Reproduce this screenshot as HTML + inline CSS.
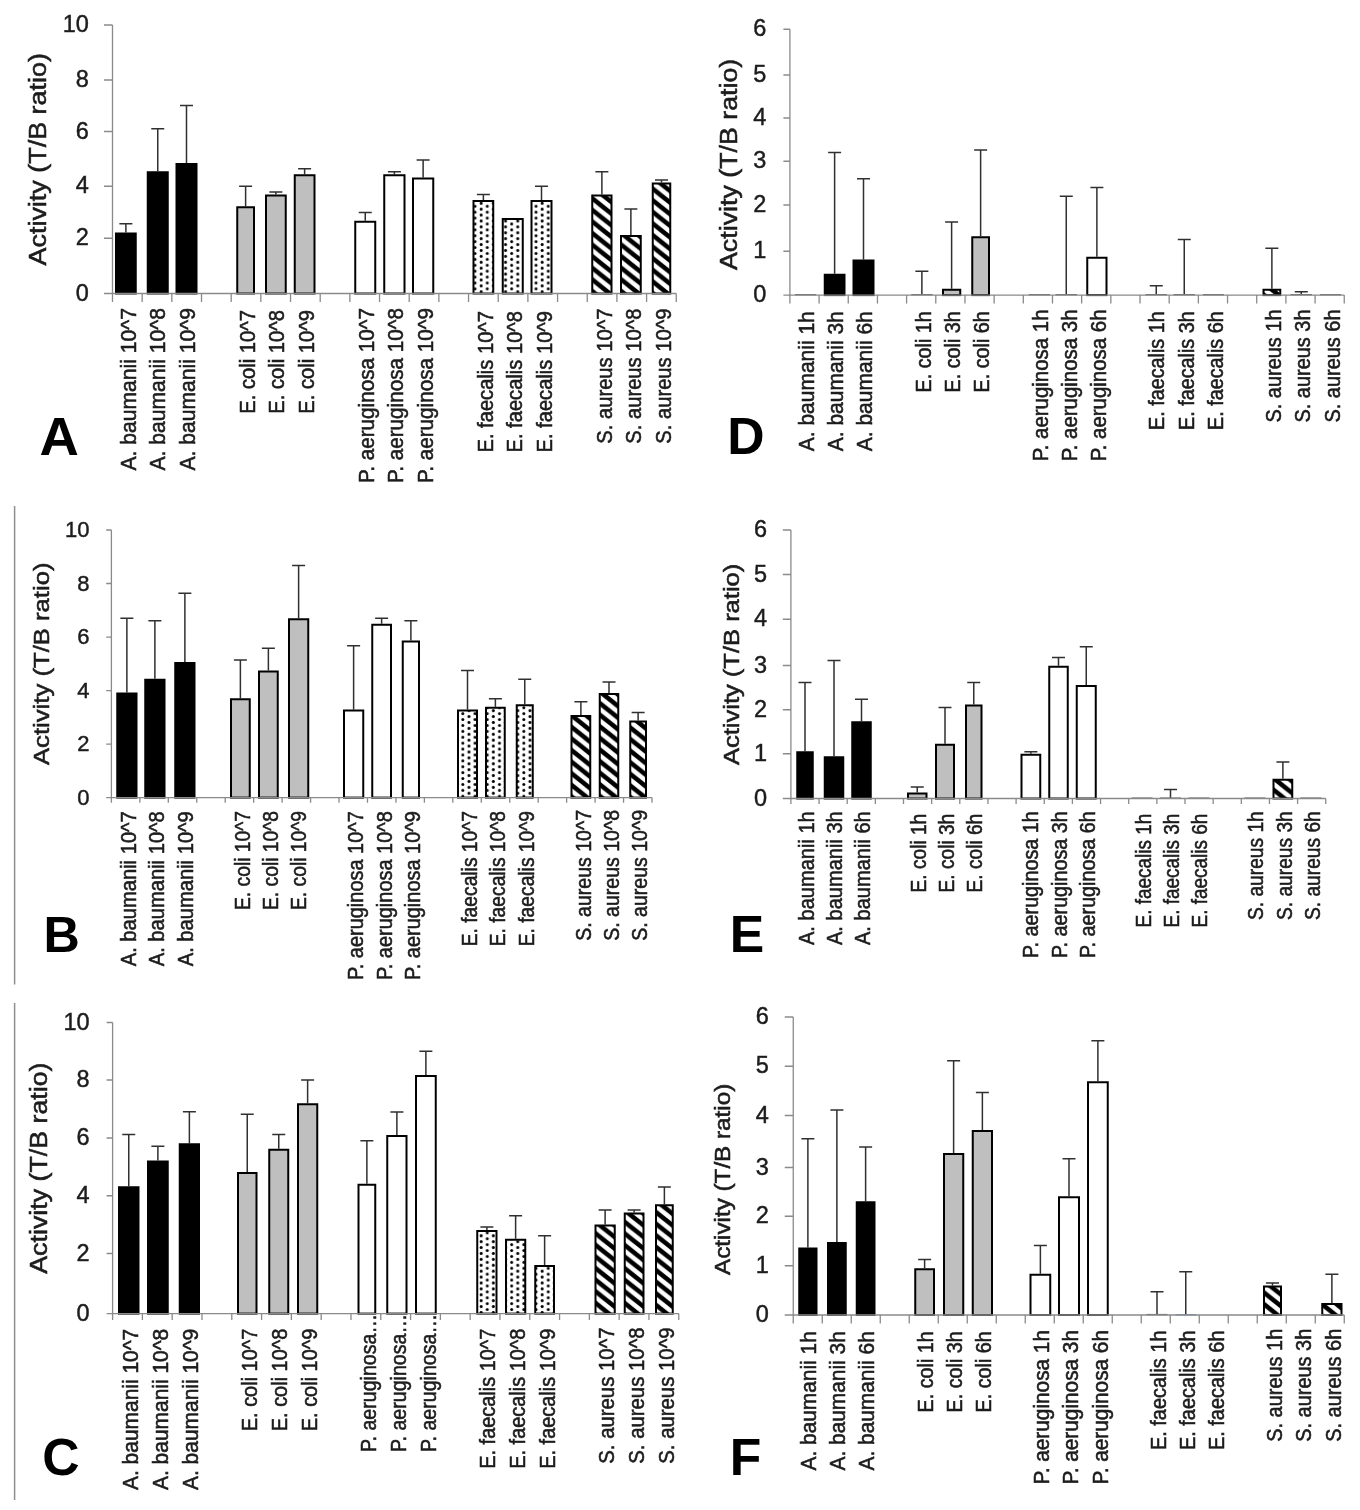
<!DOCTYPE html>
<html lang="en"><head><meta charset="utf-8"><title>Activity (T/B ratio) charts A-F</title>
<style>html,body{margin:0;padding:0;background:#fff}body{width:1360px;height:1510px;overflow:hidden}svg{display:block;font-family:"Liberation Sans", sans-serif;filter:blur(0.45px)}</style></head><body>
<svg width="1360" height="1510" viewBox="0 0 1360 1510">
<defs>
<pattern id="pdot" patternUnits="userSpaceOnUse" width="12.2" height="5.9" x="2.3" y="1.2"><rect width="12.2" height="5.9" fill="#fff"/><circle cx="3.05" cy="1.475" r="1.5" fill="#000"/><circle cx="9.15" cy="4.425" r="1.5" fill="#000"/></pattern>
<pattern id="phatch" patternUnits="userSpaceOnUse" width="14.5" height="11.6"><rect width="14.5" height="11.6" fill="#fff"/><path d="M0 0 L14.5 11.6 V17.5 L0 5.9 Z M0 -11.6 L14.5 0 V5.9 L0 -5.699999999999999 Z M0 11.6 L14.5 23.2 V29.1 L0 17.5 Z" fill="#000"/></pattern>
</defs>
<rect width="1360" height="1510" fill="#fff"/>
<g id="panel-A">
<path d="M125.88 232.5 V223.75 M119.38 223.75 H132.38" stroke="#303030" stroke-width="1.5" fill="none"/>
<rect x="116" y="233.5" width="19.75" height="60" fill="#000" stroke="#000" stroke-width="2.0"/>
<path d="M157.75 171.25 V128.75 M151.25 128.75 H164.25" stroke="#303030" stroke-width="1.5" fill="none"/>
<rect x="147.75" y="172.25" width="20" height="121.25" fill="#000" stroke="#000" stroke-width="2.0"/>
<path d="M186.5 163 V105.5 M180 105.5 H193" stroke="#303030" stroke-width="1.5" fill="none"/>
<rect x="176.5" y="164" width="20" height="129.5" fill="#000" stroke="#000" stroke-width="2.0"/>
<path d="M245.62 206.25 V186.25 M239.12 186.25 H252.12" stroke="#303030" stroke-width="1.5" fill="none"/>
<rect x="237.25" y="207.25" width="16.75" height="86.25" fill="#bfbfbf" stroke="#000" stroke-width="2.0"/>
<path d="M275.88 194.5 V192 M269.38 192 H282.38" stroke="#303030" stroke-width="1.5" fill="none"/>
<rect x="266" y="195.5" width="19.75" height="98" fill="#bfbfbf" stroke="#000" stroke-width="2.0"/>
<path d="M304.62 174.25 V168.75 M298.12 168.75 H311.12" stroke="#303030" stroke-width="1.5" fill="none"/>
<rect x="294.75" y="175.25" width="19.75" height="118.25" fill="#bfbfbf" stroke="#000" stroke-width="2.0"/>
<path d="M365.25 220.75 V212.5 M358.75 212.5 H371.75" stroke="#303030" stroke-width="1.5" fill="none"/>
<rect x="355.25" y="221.75" width="20" height="71.75" fill="#fff" stroke="#000" stroke-width="2.0"/>
<path d="M394.38 174.25 V171.75 M387.88 171.75 H400.88" stroke="#303030" stroke-width="1.5" fill="none"/>
<rect x="384.25" y="175.25" width="20.25" height="118.25" fill="#fff" stroke="#000" stroke-width="2.0"/>
<path d="M423.12 177.5 V160 M416.62 160 H429.62" stroke="#303030" stroke-width="1.5" fill="none"/>
<rect x="413" y="178.5" width="20.25" height="115" fill="#fff" stroke="#000" stroke-width="2.0"/>
<path d="M483.38 200 V194.5 M476.88 194.5 H489.88" stroke="#303030" stroke-width="1.5" fill="none"/>
<rect x="473.5" y="201" width="19.75" height="92.5" fill="url(#pdot)" stroke="#000" stroke-width="2.0"/>
<rect x="502.75" y="219" width="20" height="74.5" fill="url(#pdot)" stroke="#000" stroke-width="2.0"/>
<path d="M541.5 200 V186.25 M535 186.25 H548" stroke="#303030" stroke-width="1.5" fill="none"/>
<rect x="531.5" y="201" width="20" height="92.5" fill="url(#pdot)" stroke="#000" stroke-width="2.0"/>
<path d="M601.88 194.5 V171.75 M595.38 171.75 H608.38" stroke="#303030" stroke-width="1.5" fill="none"/>
<rect x="592.25" y="195.5" width="19.25" height="98" fill="url(#phatch)" stroke="#000" stroke-width="2.0"/>
<path d="M630.88 235 V209 M624.38 209 H637.38" stroke="#303030" stroke-width="1.5" fill="none"/>
<rect x="621" y="236" width="19.75" height="57.5" fill="url(#phatch)" stroke="#000" stroke-width="2.0"/>
<path d="M661.5 182.5 V180 M655 180 H668" stroke="#303030" stroke-width="1.5" fill="none"/>
<rect x="652.75" y="183.5" width="17.5" height="110" fill="url(#phatch)" stroke="#000" stroke-width="2.0"/>
<path d="M112.5 25 V293.5 M104 293.5 H676.25 M104 238.25 H112.5 M104 186.25 H112.5 M104 131.5 H112.5 M104 80 H112.5 M104 25 H112.5 M112.5 293.5 V301.9 M142.17 293.5 V301.9 M171.84 293.5 V301.9 M201.51 293.5 V301.9 M231.18 293.5 V301.9 M260.86 293.5 V301.9 M290.53 293.5 V301.9 M320.2 293.5 V301.9 M349.87 293.5 V301.9 M379.54 293.5 V301.9 M409.21 293.5 V301.9 M438.88 293.5 V301.9 M468.55 293.5 V301.9 M498.22 293.5 V301.9 M527.89 293.5 V301.9 M557.57 293.5 V301.9 M587.24 293.5 V301.9 M616.91 293.5 V301.9 M646.58 293.5 V301.9 M676.25 293.5 V301.9" stroke="#8a8a8a" stroke-width="1.3" fill="none"/>
<text x="88.8" y="300.7" text-anchor="end" font-size="23.5" fill="#1c1c1c" stroke="#1c1c1c" stroke-width="0.45">0</text>
<text x="88.8" y="245.45" text-anchor="end" font-size="23.5" fill="#1c1c1c" stroke="#1c1c1c" stroke-width="0.45">2</text>
<text x="88.8" y="193.45" text-anchor="end" font-size="23.5" fill="#1c1c1c" stroke="#1c1c1c" stroke-width="0.45">4</text>
<text x="88.8" y="138.7" text-anchor="end" font-size="23.5" fill="#1c1c1c" stroke="#1c1c1c" stroke-width="0.45">6</text>
<text x="88.8" y="87.2" text-anchor="end" font-size="23.5" fill="#1c1c1c" stroke="#1c1c1c" stroke-width="0.45">8</text>
<text x="88.8" y="32.2" text-anchor="end" font-size="23.5" fill="#1c1c1c" stroke="#1c1c1c" stroke-width="0.45">10</text>
<text transform="translate(46 265.5) rotate(-90)" font-size="23.5" fill="#1c1c1c" stroke="#1c1c1c" stroke-width="0.55" textLength="212.5" lengthAdjust="spacingAndGlyphs">Activity (T/B ratio)</text>
<text x="39.5" y="455" font-size="54.47" font-weight="bold" fill="#000">A</text>
<text transform="translate(135.7 470.5) rotate(-90)" font-size="21.5" fill="#1c1c1c" stroke="#1c1c1c" stroke-width="0.55" textLength="162.5" lengthAdjust="spacingAndGlyphs">A. baumanii 10^7</text>
<text transform="translate(165.44 470.5) rotate(-90)" font-size="21.5" fill="#1c1c1c" stroke="#1c1c1c" stroke-width="0.55" textLength="162.5" lengthAdjust="spacingAndGlyphs">A. baumanii 10^8</text>
<text transform="translate(195.18 470.5) rotate(-90)" font-size="21.5" fill="#1c1c1c" stroke="#1c1c1c" stroke-width="0.55" textLength="162.5" lengthAdjust="spacingAndGlyphs">A. baumanii 10^9</text>
<text transform="translate(254.66 413.75) rotate(-90)" font-size="21.5" fill="#1c1c1c" stroke="#1c1c1c" stroke-width="0.55" textLength="103.75" lengthAdjust="spacingAndGlyphs">E. coli 10^7</text>
<text transform="translate(284.4 413.75) rotate(-90)" font-size="21.5" fill="#1c1c1c" stroke="#1c1c1c" stroke-width="0.55" textLength="103.75" lengthAdjust="spacingAndGlyphs">E. coli 10^8</text>
<text transform="translate(314.14 413.75) rotate(-90)" font-size="21.5" fill="#1c1c1c" stroke="#1c1c1c" stroke-width="0.55" textLength="103.75" lengthAdjust="spacingAndGlyphs">E. coli 10^9</text>
<text transform="translate(373.62 483) rotate(-90)" font-size="21.5" fill="#1c1c1c" stroke="#1c1c1c" stroke-width="0.55" textLength="175" lengthAdjust="spacingAndGlyphs">P. aeruginosa 10^7</text>
<text transform="translate(403.36 483) rotate(-90)" font-size="21.5" fill="#1c1c1c" stroke="#1c1c1c" stroke-width="0.55" textLength="175" lengthAdjust="spacingAndGlyphs">P. aeruginosa 10^8</text>
<text transform="translate(433.1 483) rotate(-90)" font-size="21.5" fill="#1c1c1c" stroke="#1c1c1c" stroke-width="0.55" textLength="175" lengthAdjust="spacingAndGlyphs">P. aeruginosa 10^9</text>
<text transform="translate(492.58 452.5) rotate(-90)" font-size="21.5" fill="#1c1c1c" stroke="#1c1c1c" stroke-width="0.55" textLength="141.5" lengthAdjust="spacingAndGlyphs">E. faecalis 10^7</text>
<text transform="translate(522.32 452.5) rotate(-90)" font-size="21.5" fill="#1c1c1c" stroke="#1c1c1c" stroke-width="0.55" textLength="141.5" lengthAdjust="spacingAndGlyphs">E. faecalis 10^8</text>
<text transform="translate(552.06 452.5) rotate(-90)" font-size="21.5" fill="#1c1c1c" stroke="#1c1c1c" stroke-width="0.55" textLength="141.5" lengthAdjust="spacingAndGlyphs">E. faecalis 10^9</text>
<text transform="translate(611.54 443.75) rotate(-90)" font-size="21.5" fill="#1c1c1c" stroke="#1c1c1c" stroke-width="0.55" textLength="135.25" lengthAdjust="spacingAndGlyphs">S. aureus 10^7</text>
<text transform="translate(641.28 443.75) rotate(-90)" font-size="21.5" fill="#1c1c1c" stroke="#1c1c1c" stroke-width="0.55" textLength="135.25" lengthAdjust="spacingAndGlyphs">S. aureus 10^8</text>
<text transform="translate(671.02 443.75) rotate(-90)" font-size="21.5" fill="#1c1c1c" stroke="#1c1c1c" stroke-width="0.55" textLength="135.25" lengthAdjust="spacingAndGlyphs">S. aureus 10^9</text>
</g>
<g id="panel-D">
<line x1="795" y1="294.7" x2="816.25" y2="294.7" stroke="#6e6e6e" stroke-width="1.4"/>
<path d="M834.62 273.75 V152.5 M828.12 152.5 H841.12" stroke="#303030" stroke-width="1.5" fill="none"/>
<rect x="824.75" y="274.75" width="19.75" height="20.35" fill="#000" stroke="#000" stroke-width="2.0"/>
<path d="M863.5 259.5 V178.75 M857 178.75 H870" stroke="#303030" stroke-width="1.5" fill="none"/>
<rect x="853.5" y="260.5" width="20" height="34.6" fill="#000" stroke="#000" stroke-width="2.0"/>
<path d="M921.88 295.1 V271.25 M915.38 271.25 H928.38" stroke="#303030" stroke-width="1.5" fill="none"/>
<line x1="911.25" y1="294.7" x2="932.5" y2="294.7" stroke="#6e6e6e" stroke-width="1.4"/>
<path d="M951.62 288.75 V222 M945.12 222 H958.12" stroke="#303030" stroke-width="1.5" fill="none"/>
<rect x="943" y="289.75" width="17.25" height="5.35" fill="#bfbfbf" stroke="#000" stroke-width="2.0"/>
<path d="M980.62 236.25 V150 M974.12 150 H987.12" stroke="#303030" stroke-width="1.5" fill="none"/>
<rect x="972.25" y="237.25" width="16.75" height="57.85" fill="#bfbfbf" stroke="#000" stroke-width="2.0"/>
<line x1="1028.75" y1="294.7" x2="1050" y2="294.7" stroke="#6e6e6e" stroke-width="1.4"/>
<path d="M1066.25 295.1 V196.25 M1059.75 196.25 H1072.75" stroke="#303030" stroke-width="1.5" fill="none"/>
<line x1="1055.5" y1="294.7" x2="1077" y2="294.7" stroke="#6e6e6e" stroke-width="1.4"/>
<path d="M1096.88 256.75 V187.5 M1090.38 187.5 H1103.38" stroke="#303030" stroke-width="1.5" fill="none"/>
<rect x="1087.25" y="257.75" width="19.25" height="37.35" fill="#fff" stroke="#000" stroke-width="2.0"/>
<path d="M1156.25 295.1 V285.75 M1149.75 285.75 H1162.75" stroke="#303030" stroke-width="1.5" fill="none"/>
<line x1="1145.5" y1="294.7" x2="1167" y2="294.7" stroke="#6e6e6e" stroke-width="1.4"/>
<path d="M1184.25 295.1 V239.5 M1177.75 239.5 H1190.75" stroke="#303030" stroke-width="1.5" fill="none"/>
<line x1="1173.5" y1="294.7" x2="1195" y2="294.7" stroke="#6e6e6e" stroke-width="1.4"/>
<line x1="1203" y1="294.7" x2="1224" y2="294.7" stroke="#6e6e6e" stroke-width="1.4"/>
<path d="M1271.88 288.75 V248.25 M1265.38 248.25 H1278.38" stroke="#303030" stroke-width="1.5" fill="none"/>
<rect x="1263.5" y="289.75" width="16.75" height="5.35" fill="url(#phatch)" stroke="#000" stroke-width="2.0"/>
<path d="M1301.25 295.1 V291.75 M1294.75 291.75 H1307.75" stroke="#303030" stroke-width="1.5" fill="none"/>
<line x1="1290.5" y1="294.7" x2="1312" y2="294.7" stroke="#6e6e6e" stroke-width="1.4"/>
<line x1="1320" y1="294.7" x2="1341" y2="294.7" stroke="#6e6e6e" stroke-width="1.4"/>
<path d="M789.9 29.25 V295.1 M783.4 295.1 H1344.25 M783.4 251.25 H789.9 M783.4 205 H789.9 M783.4 161.25 H789.9 M783.4 118 H789.9 M783.4 75 H789.9 M783.4 29.25 H789.9 M789.9 295.1 V303.4 M819.08 295.1 V303.4 M848.25 295.1 V303.4 M877.43 295.1 V303.4 M906.61 295.1 V303.4 M935.78 295.1 V303.4 M964.96 295.1 V303.4 M994.13 295.1 V303.4 M1023.31 295.1 V303.4 M1052.49 295.1 V303.4 M1081.66 295.1 V303.4 M1110.84 295.1 V303.4 M1140.02 295.1 V303.4 M1169.19 295.1 V303.4 M1198.37 295.1 V303.4 M1227.54 295.1 V303.4 M1256.72 295.1 V303.4 M1285.9 295.1 V303.4 M1315.07 295.1 V303.4 M1344.25 295.1 V303.4" stroke="#8a8a8a" stroke-width="1.3" fill="none"/>
<text x="766.3" y="302.3" text-anchor="end" font-size="23.5" fill="#1c1c1c" stroke="#1c1c1c" stroke-width="0.45">0</text>
<text x="766.3" y="258.45" text-anchor="end" font-size="23.5" fill="#1c1c1c" stroke="#1c1c1c" stroke-width="0.45">1</text>
<text x="766.3" y="212.2" text-anchor="end" font-size="23.5" fill="#1c1c1c" stroke="#1c1c1c" stroke-width="0.45">2</text>
<text x="766.3" y="168.45" text-anchor="end" font-size="23.5" fill="#1c1c1c" stroke="#1c1c1c" stroke-width="0.45">3</text>
<text x="766.3" y="125.2" text-anchor="end" font-size="23.5" fill="#1c1c1c" stroke="#1c1c1c" stroke-width="0.45">4</text>
<text x="766.3" y="82.2" text-anchor="end" font-size="23.5" fill="#1c1c1c" stroke="#1c1c1c" stroke-width="0.45">5</text>
<text x="766.3" y="36.45" text-anchor="end" font-size="23.5" fill="#1c1c1c" stroke="#1c1c1c" stroke-width="0.45">6</text>
<text transform="translate(737 270) rotate(-90)" font-size="23.5" fill="#1c1c1c" stroke="#1c1c1c" stroke-width="0.55" textLength="211.25" lengthAdjust="spacingAndGlyphs">Activity (T/B ratio)</text>
<text x="727.25" y="454.25" font-size="51.68" font-weight="bold" fill="#000">D</text>
<text transform="translate(813.9 451.25) rotate(-90)" font-size="21.5" fill="#1c1c1c" stroke="#1c1c1c" stroke-width="0.55" textLength="140" lengthAdjust="spacingAndGlyphs">A. baumanii 1h</text>
<text transform="translate(843.1 451.25) rotate(-90)" font-size="21.5" fill="#1c1c1c" stroke="#1c1c1c" stroke-width="0.55" textLength="140" lengthAdjust="spacingAndGlyphs">A. baumanii 3h</text>
<text transform="translate(872.3 451.25) rotate(-90)" font-size="21.5" fill="#1c1c1c" stroke="#1c1c1c" stroke-width="0.55" textLength="140" lengthAdjust="spacingAndGlyphs">A. baumanii 6h</text>
<text transform="translate(930.7 392.5) rotate(-90)" font-size="21.5" fill="#1c1c1c" stroke="#1c1c1c" stroke-width="0.55" textLength="81.25" lengthAdjust="spacingAndGlyphs">E. coli 1h</text>
<text transform="translate(959.9 392.5) rotate(-90)" font-size="21.5" fill="#1c1c1c" stroke="#1c1c1c" stroke-width="0.55" textLength="81.25" lengthAdjust="spacingAndGlyphs">E. coli 3h</text>
<text transform="translate(989.1 392.5) rotate(-90)" font-size="21.5" fill="#1c1c1c" stroke="#1c1c1c" stroke-width="0.55" textLength="81.25" lengthAdjust="spacingAndGlyphs">E. coli 6h</text>
<text transform="translate(1047.5 461.25) rotate(-90)" font-size="21.5" fill="#1c1c1c" stroke="#1c1c1c" stroke-width="0.55" textLength="151.75" lengthAdjust="spacingAndGlyphs">P. aeruginosa 1h</text>
<text transform="translate(1076.7 461.25) rotate(-90)" font-size="21.5" fill="#1c1c1c" stroke="#1c1c1c" stroke-width="0.55" textLength="151.75" lengthAdjust="spacingAndGlyphs">P. aeruginosa 3h</text>
<text transform="translate(1105.9 461.25) rotate(-90)" font-size="21.5" fill="#1c1c1c" stroke="#1c1c1c" stroke-width="0.55" textLength="151.75" lengthAdjust="spacingAndGlyphs">P. aeruginosa 6h</text>
<text transform="translate(1164.3 430) rotate(-90)" font-size="21.5" fill="#1c1c1c" stroke="#1c1c1c" stroke-width="0.55" textLength="118.75" lengthAdjust="spacingAndGlyphs">E. faecalis 1h</text>
<text transform="translate(1193.5 430) rotate(-90)" font-size="21.5" fill="#1c1c1c" stroke="#1c1c1c" stroke-width="0.55" textLength="118.75" lengthAdjust="spacingAndGlyphs">E. faecalis 3h</text>
<text transform="translate(1222.7 430) rotate(-90)" font-size="21.5" fill="#1c1c1c" stroke="#1c1c1c" stroke-width="0.55" textLength="118.75" lengthAdjust="spacingAndGlyphs">E. faecalis 6h</text>
<text transform="translate(1281.1 422.5) rotate(-90)" font-size="21.5" fill="#1c1c1c" stroke="#1c1c1c" stroke-width="0.55" textLength="113" lengthAdjust="spacingAndGlyphs">S. aureus 1h</text>
<text transform="translate(1310.3 422.5) rotate(-90)" font-size="21.5" fill="#1c1c1c" stroke="#1c1c1c" stroke-width="0.55" textLength="113" lengthAdjust="spacingAndGlyphs">S. aureus 3h</text>
<text transform="translate(1339.5 422.5) rotate(-90)" font-size="21.5" fill="#1c1c1c" stroke="#1c1c1c" stroke-width="0.55" textLength="113" lengthAdjust="spacingAndGlyphs">S. aureus 6h</text>
</g>
<g id="panel-B">
<line x1="14.6" y1="506" x2="14.6" y2="984.6" stroke="#8f8f8f" stroke-width="1.5"/>
<path d="M126.88 692.5 V618.25 M120.38 618.25 H133.38" stroke="#303030" stroke-width="1.5" fill="none"/>
<rect x="117.25" y="693.5" width="19.25" height="104.1" fill="#000" stroke="#000" stroke-width="2.0"/>
<path d="M154.88 678.75 V620.75 M148.38 620.75 H161.38" stroke="#303030" stroke-width="1.5" fill="none"/>
<rect x="145.25" y="679.75" width="19.25" height="117.85" fill="#000" stroke="#000" stroke-width="2.0"/>
<path d="M184.88 662 V593.25 M178.38 593.25 H191.38" stroke="#303030" stroke-width="1.5" fill="none"/>
<rect x="175.25" y="663" width="19.25" height="134.6" fill="#000" stroke="#000" stroke-width="2.0"/>
<path d="M240.38 698.25 V660 M233.88 660 H246.88" stroke="#303030" stroke-width="1.5" fill="none"/>
<rect x="231" y="699.25" width="18.75" height="98.35" fill="#bfbfbf" stroke="#000" stroke-width="2.0"/>
<path d="M268.38 670.5 V648.25 M261.88 648.25 H274.88" stroke="#303030" stroke-width="1.5" fill="none"/>
<rect x="259" y="671.5" width="18.75" height="126.1" fill="#bfbfbf" stroke="#000" stroke-width="2.0"/>
<path d="M298.62 618.25 V565.5 M292.12 565.5 H305.12" stroke="#303030" stroke-width="1.5" fill="none"/>
<rect x="289" y="619.25" width="19.25" height="178.35" fill="#bfbfbf" stroke="#000" stroke-width="2.0"/>
<path d="M353.62 709.5 V645.75 M347.12 645.75 H360.12" stroke="#303030" stroke-width="1.5" fill="none"/>
<rect x="344" y="710.5" width="19.25" height="87.1" fill="#fff" stroke="#000" stroke-width="2.0"/>
<path d="M381.62 623.75 V618.25 M375.12 618.25 H388.12" stroke="#303030" stroke-width="1.5" fill="none"/>
<rect x="372.25" y="624.75" width="18.75" height="172.85" fill="#fff" stroke="#000" stroke-width="2.0"/>
<path d="M410.88 640.5 V620.75 M404.38 620.75 H417.38" stroke="#303030" stroke-width="1.5" fill="none"/>
<rect x="402.75" y="641.5" width="16.25" height="156.1" fill="#fff" stroke="#000" stroke-width="2.0"/>
<path d="M467.5 709.5 V670.5 M461 670.5 H474" stroke="#303030" stroke-width="1.5" fill="none"/>
<rect x="458" y="710.5" width="19" height="87.1" fill="url(#pdot)" stroke="#000" stroke-width="2.0"/>
<path d="M495.38 706.75 V698.75 M488.88 698.75 H501.88" stroke="#303030" stroke-width="1.5" fill="none"/>
<rect x="486" y="707.75" width="18.75" height="89.85" fill="url(#pdot)" stroke="#000" stroke-width="2.0"/>
<path d="M524.75 704.25 V679.25 M518.25 679.25 H531.25" stroke="#303030" stroke-width="1.5" fill="none"/>
<rect x="516.75" y="705.25" width="16" height="92.35" fill="url(#pdot)" stroke="#000" stroke-width="2.0"/>
<path d="M580.88 715 V701.75 M574.38 701.75 H587.38" stroke="#303030" stroke-width="1.5" fill="none"/>
<rect x="571.5" y="716" width="18.75" height="81.6" fill="url(#phatch)" stroke="#000" stroke-width="2.0"/>
<path d="M609 693 V682 M602.5 682 H615.5" stroke="#303030" stroke-width="1.5" fill="none"/>
<rect x="599.75" y="694" width="18.5" height="103.6" fill="url(#phatch)" stroke="#000" stroke-width="2.0"/>
<path d="M638.12 720.5 V712.5 M631.62 712.5 H644.62" stroke="#303030" stroke-width="1.5" fill="none"/>
<rect x="630.25" y="721.5" width="15.75" height="76.1" fill="url(#phatch)" stroke="#000" stroke-width="2.0"/>
<path d="M111.4 530 V797.6 M106.2 797.6 H652 M106.2 744.08 H111.4 M106.2 690.56 H111.4 M106.2 637.04 H111.4 M106.2 583.52 H111.4 M106.2 530 H111.4 M111.4 797.6 V802.8 M139.85 797.6 V802.8 M168.31 797.6 V802.8 M196.76 797.6 V802.8 M225.21 797.6 V802.8 M253.66 797.6 V802.8 M282.12 797.6 V802.8 M310.57 797.6 V802.8 M339.02 797.6 V802.8 M367.47 797.6 V802.8 M395.93 797.6 V802.8 M424.38 797.6 V802.8 M452.83 797.6 V802.8 M481.28 797.6 V802.8 M509.74 797.6 V802.8 M538.19 797.6 V802.8 M566.64 797.6 V802.8 M595.09 797.6 V802.8 M623.55 797.6 V802.8 M652 797.6 V802.8" stroke="#8a8a8a" stroke-width="1.3" fill="none"/>
<text x="89.55" y="804.8" text-anchor="end" font-size="22" fill="#1c1c1c" stroke="#1c1c1c" stroke-width="0.45">0</text>
<text x="89.55" y="751.28" text-anchor="end" font-size="22" fill="#1c1c1c" stroke="#1c1c1c" stroke-width="0.45">2</text>
<text x="89.55" y="697.76" text-anchor="end" font-size="22" fill="#1c1c1c" stroke="#1c1c1c" stroke-width="0.45">4</text>
<text x="89.55" y="644.24" text-anchor="end" font-size="22" fill="#1c1c1c" stroke="#1c1c1c" stroke-width="0.45">6</text>
<text x="89.55" y="590.72" text-anchor="end" font-size="22" fill="#1c1c1c" stroke="#1c1c1c" stroke-width="0.45">8</text>
<text x="89.55" y="537.2" text-anchor="end" font-size="22" fill="#1c1c1c" stroke="#1c1c1c" stroke-width="0.45">10</text>
<text transform="translate(48.5 765) rotate(-90)" font-size="22.3" fill="#1c1c1c" stroke="#1c1c1c" stroke-width="0.55" textLength="202.5" lengthAdjust="spacingAndGlyphs">Activity (T/B ratio)</text>
<text x="43.5" y="952" font-size="50.28" font-weight="bold" fill="#000">B</text>
<text transform="translate(135.9 966.25) rotate(-90)" font-size="21.5" fill="#1c1c1c" stroke="#1c1c1c" stroke-width="0.55" textLength="155" lengthAdjust="spacingAndGlyphs">A. baumanii 10^7</text>
<text transform="translate(164.32 966.25) rotate(-90)" font-size="21.5" fill="#1c1c1c" stroke="#1c1c1c" stroke-width="0.55" textLength="155" lengthAdjust="spacingAndGlyphs">A. baumanii 10^8</text>
<text transform="translate(192.74 966.25) rotate(-90)" font-size="21.5" fill="#1c1c1c" stroke="#1c1c1c" stroke-width="0.55" textLength="155" lengthAdjust="spacingAndGlyphs">A. baumanii 10^9</text>
<text transform="translate(249.58 910) rotate(-90)" font-size="21.5" fill="#1c1c1c" stroke="#1c1c1c" stroke-width="0.55" textLength="99" lengthAdjust="spacingAndGlyphs">E. coli 10^7</text>
<text transform="translate(278 910) rotate(-90)" font-size="21.5" fill="#1c1c1c" stroke="#1c1c1c" stroke-width="0.55" textLength="99" lengthAdjust="spacingAndGlyphs">E. coli 10^8</text>
<text transform="translate(306.42 910) rotate(-90)" font-size="21.5" fill="#1c1c1c" stroke="#1c1c1c" stroke-width="0.55" textLength="99" lengthAdjust="spacingAndGlyphs">E. coli 10^9</text>
<text transform="translate(363.26 980) rotate(-90)" font-size="21.5" fill="#1c1c1c" stroke="#1c1c1c" stroke-width="0.55" textLength="168.75" lengthAdjust="spacingAndGlyphs">P. aeruginosa 10^7</text>
<text transform="translate(391.68 980) rotate(-90)" font-size="21.5" fill="#1c1c1c" stroke="#1c1c1c" stroke-width="0.55" textLength="168.75" lengthAdjust="spacingAndGlyphs">P. aeruginosa 10^8</text>
<text transform="translate(420.1 980) rotate(-90)" font-size="21.5" fill="#1c1c1c" stroke="#1c1c1c" stroke-width="0.55" textLength="168.75" lengthAdjust="spacingAndGlyphs">P. aeruginosa 10^9</text>
<text transform="translate(476.94 946.25) rotate(-90)" font-size="21.5" fill="#1c1c1c" stroke="#1c1c1c" stroke-width="0.55" textLength="135.25" lengthAdjust="spacingAndGlyphs">E. faecalis 10^7</text>
<text transform="translate(505.36 946.25) rotate(-90)" font-size="21.5" fill="#1c1c1c" stroke="#1c1c1c" stroke-width="0.55" textLength="135.25" lengthAdjust="spacingAndGlyphs">E. faecalis 10^8</text>
<text transform="translate(533.78 946.25) rotate(-90)" font-size="21.5" fill="#1c1c1c" stroke="#1c1c1c" stroke-width="0.55" textLength="135.25" lengthAdjust="spacingAndGlyphs">E. faecalis 10^9</text>
<text transform="translate(590.62 940.75) rotate(-90)" font-size="21.5" fill="#1c1c1c" stroke="#1c1c1c" stroke-width="0.55" textLength="130.75" lengthAdjust="spacingAndGlyphs">S. aureus 10^7</text>
<text transform="translate(619.04 940.75) rotate(-90)" font-size="21.5" fill="#1c1c1c" stroke="#1c1c1c" stroke-width="0.55" textLength="130.75" lengthAdjust="spacingAndGlyphs">S. aureus 10^8</text>
<text transform="translate(647.46 940.75) rotate(-90)" font-size="21.5" fill="#1c1c1c" stroke="#1c1c1c" stroke-width="0.55" textLength="130.75" lengthAdjust="spacingAndGlyphs">S. aureus 10^9</text>
</g>
<g id="panel-E">
<path d="M805 751.25 V682.5 M798.5 682.5 H811.5" stroke="#303030" stroke-width="1.5" fill="none"/>
<rect x="797.25" y="752.25" width="15.5" height="46.25" fill="#000" stroke="#000" stroke-width="2.0"/>
<path d="M834 756.25 V660.5 M827.5 660.5 H840.5" stroke="#303030" stroke-width="1.5" fill="none"/>
<rect x="824.75" y="757.25" width="18.5" height="41.25" fill="#000" stroke="#000" stroke-width="2.0"/>
<path d="M861.5 721.25 V699.25 M855 699.25 H868" stroke="#303030" stroke-width="1.5" fill="none"/>
<rect x="852.25" y="722.25" width="18.5" height="76.25" fill="#000" stroke="#000" stroke-width="2.0"/>
<path d="M917.25 792.5 V787 M910.75 787 H923.75" stroke="#303030" stroke-width="1.5" fill="none"/>
<rect x="908" y="793.5" width="18.5" height="5" fill="#bfbfbf" stroke="#000" stroke-width="2.0"/>
<path d="M945 743.75 V707.5 M938.5 707.5 H951.5" stroke="#303030" stroke-width="1.5" fill="none"/>
<rect x="936" y="744.75" width="18" height="53.75" fill="#bfbfbf" stroke="#000" stroke-width="2.0"/>
<path d="M973.75 704.5 V682.5 M967.25 682.5 H980.25" stroke="#303030" stroke-width="1.5" fill="none"/>
<rect x="966" y="705.5" width="15.5" height="93" fill="#bfbfbf" stroke="#000" stroke-width="2.0"/>
<path d="M1030.88 753.75 V751.75 M1024.38 751.75 H1037.38" stroke="#303030" stroke-width="1.5" fill="none"/>
<rect x="1021.5" y="754.75" width="18.75" height="43.75" fill="#fff" stroke="#000" stroke-width="2.0"/>
<path d="M1058.5 665.75 V657.5 M1052 657.5 H1065" stroke="#303030" stroke-width="1.5" fill="none"/>
<rect x="1049.25" y="666.75" width="18.5" height="131.75" fill="#fff" stroke="#000" stroke-width="2.0"/>
<path d="M1086.25 685 V646.75 M1079.75 646.75 H1092.75" stroke="#303030" stroke-width="1.5" fill="none"/>
<rect x="1076.75" y="686" width="19" height="112.5" fill="#fff" stroke="#000" stroke-width="2.0"/>
<line x1="1131.75" y1="798.1" x2="1152.5" y2="798.1" stroke="#6e6e6e" stroke-width="1.4"/>
<path d="M1170.5 798.5 V789.5 M1164 789.5 H1177" stroke="#303030" stroke-width="1.5" fill="none"/>
<line x1="1160" y1="798.1" x2="1181" y2="798.1" stroke="#6e6e6e" stroke-width="1.4"/>
<line x1="1188.5" y1="798.1" x2="1209.5" y2="798.1" stroke="#6e6e6e" stroke-width="1.4"/>
<line x1="1244.5" y1="798.1" x2="1265.5" y2="798.1" stroke="#6e6e6e" stroke-width="1.4"/>
<path d="M1282.88 778.75 V762 M1276.38 762 H1289.38" stroke="#303030" stroke-width="1.5" fill="none"/>
<rect x="1273.5" y="779.75" width="18.75" height="18.75" fill="url(#phatch)" stroke="#000" stroke-width="2.0"/>
<line x1="1300.5" y1="798.1" x2="1321.5" y2="798.1" stroke="#6e6e6e" stroke-width="1.4"/>
<path d="M790.9 530 V798.5 M782.8 798.5 H1325.75 M782.8 753.75 H790.9 M782.8 709.75 H790.9 M782.8 665.5 H790.9 M782.8 619.25 H790.9 M782.8 574.5 H790.9 M782.8 530 H790.9 M790.9 798.5 V803.9 M819.05 798.5 V803.9 M847.2 798.5 V803.9 M875.35 798.5 V803.9 M903.5 798.5 V803.9 M931.65 798.5 V803.9 M959.8 798.5 V803.9 M987.95 798.5 V803.9 M1016.1 798.5 V803.9 M1044.25 798.5 V803.9 M1072.4 798.5 V803.9 M1100.55 798.5 V803.9 M1128.7 798.5 V803.9 M1156.85 798.5 V803.9 M1185 798.5 V803.9 M1213.15 798.5 V803.9 M1241.3 798.5 V803.9 M1269.45 798.5 V803.9 M1297.6 798.5 V803.9 M1325.75 798.5 V803.9" stroke="#8a8a8a" stroke-width="1.3" fill="none"/>
<text x="767.05" y="805.7" text-anchor="end" font-size="23.5" fill="#1c1c1c" stroke="#1c1c1c" stroke-width="0.45">0</text>
<text x="767.05" y="760.95" text-anchor="end" font-size="23.5" fill="#1c1c1c" stroke="#1c1c1c" stroke-width="0.45">1</text>
<text x="767.05" y="716.95" text-anchor="end" font-size="23.5" fill="#1c1c1c" stroke="#1c1c1c" stroke-width="0.45">2</text>
<text x="767.05" y="672.7" text-anchor="end" font-size="23.5" fill="#1c1c1c" stroke="#1c1c1c" stroke-width="0.45">3</text>
<text x="767.05" y="626.45" text-anchor="end" font-size="23.5" fill="#1c1c1c" stroke="#1c1c1c" stroke-width="0.45">4</text>
<text x="767.05" y="581.7" text-anchor="end" font-size="23.5" fill="#1c1c1c" stroke="#1c1c1c" stroke-width="0.45">5</text>
<text x="767.05" y="537.2" text-anchor="end" font-size="23.5" fill="#1c1c1c" stroke="#1c1c1c" stroke-width="0.45">6</text>
<text transform="translate(738.5 765) rotate(-90)" font-size="22.3" fill="#1c1c1c" stroke="#1c1c1c" stroke-width="0.55" textLength="201.25" lengthAdjust="spacingAndGlyphs">Activity (T/B ratio)</text>
<text x="729.75" y="952" font-size="51.68" font-weight="bold" fill="#000">E</text>
<text transform="translate(813.5 945) rotate(-90)" font-size="21.5" fill="#1c1c1c" stroke="#1c1c1c" stroke-width="0.55" textLength="133.75" lengthAdjust="spacingAndGlyphs">A. baumanii 1h</text>
<text transform="translate(841.62 945) rotate(-90)" font-size="21.5" fill="#1c1c1c" stroke="#1c1c1c" stroke-width="0.55" textLength="133.75" lengthAdjust="spacingAndGlyphs">A. baumanii 3h</text>
<text transform="translate(869.74 945) rotate(-90)" font-size="21.5" fill="#1c1c1c" stroke="#1c1c1c" stroke-width="0.55" textLength="133.75" lengthAdjust="spacingAndGlyphs">A. baumanii 6h</text>
<text transform="translate(925.98 892.5) rotate(-90)" font-size="21.5" fill="#1c1c1c" stroke="#1c1c1c" stroke-width="0.55" textLength="78.75" lengthAdjust="spacingAndGlyphs">E. coli 1h</text>
<text transform="translate(954.1 892.5) rotate(-90)" font-size="21.5" fill="#1c1c1c" stroke="#1c1c1c" stroke-width="0.55" textLength="78.75" lengthAdjust="spacingAndGlyphs">E. coli 3h</text>
<text transform="translate(982.22 892.5) rotate(-90)" font-size="21.5" fill="#1c1c1c" stroke="#1c1c1c" stroke-width="0.55" textLength="78.75" lengthAdjust="spacingAndGlyphs">E. coli 6h</text>
<text transform="translate(1038.46 958) rotate(-90)" font-size="21.5" fill="#1c1c1c" stroke="#1c1c1c" stroke-width="0.55" textLength="146.75" lengthAdjust="spacingAndGlyphs">P. aeruginosa 1h</text>
<text transform="translate(1066.58 958) rotate(-90)" font-size="21.5" fill="#1c1c1c" stroke="#1c1c1c" stroke-width="0.55" textLength="146.75" lengthAdjust="spacingAndGlyphs">P. aeruginosa 3h</text>
<text transform="translate(1094.7 958) rotate(-90)" font-size="21.5" fill="#1c1c1c" stroke="#1c1c1c" stroke-width="0.55" textLength="146.75" lengthAdjust="spacingAndGlyphs">P. aeruginosa 6h</text>
<text transform="translate(1150.94 927.5) rotate(-90)" font-size="21.5" fill="#1c1c1c" stroke="#1c1c1c" stroke-width="0.55" textLength="113.75" lengthAdjust="spacingAndGlyphs">E. faecalis 1h</text>
<text transform="translate(1179.06 927.5) rotate(-90)" font-size="21.5" fill="#1c1c1c" stroke="#1c1c1c" stroke-width="0.55" textLength="113.75" lengthAdjust="spacingAndGlyphs">E. faecalis 3h</text>
<text transform="translate(1207.18 927.5) rotate(-90)" font-size="21.5" fill="#1c1c1c" stroke="#1c1c1c" stroke-width="0.55" textLength="113.75" lengthAdjust="spacingAndGlyphs">E. faecalis 6h</text>
<text transform="translate(1263.42 920) rotate(-90)" font-size="21.5" fill="#1c1c1c" stroke="#1c1c1c" stroke-width="0.55" textLength="108.75" lengthAdjust="spacingAndGlyphs">S. aureus 1h</text>
<text transform="translate(1291.54 920) rotate(-90)" font-size="21.5" fill="#1c1c1c" stroke="#1c1c1c" stroke-width="0.55" textLength="108.75" lengthAdjust="spacingAndGlyphs">S. aureus 3h</text>
<text transform="translate(1319.66 920) rotate(-90)" font-size="21.5" fill="#1c1c1c" stroke="#1c1c1c" stroke-width="0.55" textLength="108.75" lengthAdjust="spacingAndGlyphs">S. aureus 6h</text>
</g>
<g id="panel-C">
<line x1="14.6" y1="1002.9" x2="14.6" y2="1500" stroke="#8f8f8f" stroke-width="1.5"/>
<path d="M128.75 1186.25 V1134.5 M122.25 1134.5 H135.25" stroke="#303030" stroke-width="1.5" fill="none"/>
<rect x="119" y="1187.25" width="19.5" height="126.35" fill="#000" stroke="#000" stroke-width="2.0"/>
<path d="M157.88 1160.5 V1146.25 M151.38 1146.25 H164.38" stroke="#303030" stroke-width="1.5" fill="none"/>
<rect x="148" y="1161.5" width="19.75" height="152.1" fill="#000" stroke="#000" stroke-width="2.0"/>
<path d="M189.38 1143.25 V1111.75 M182.88 1111.75 H195.88" stroke="#303030" stroke-width="1.5" fill="none"/>
<rect x="179.75" y="1144.25" width="19.25" height="169.35" fill="#000" stroke="#000" stroke-width="2.0"/>
<path d="M247.25 1172 V1114.25 M240.75 1114.25 H253.75" stroke="#303030" stroke-width="1.5" fill="none"/>
<rect x="238" y="1173" width="18.5" height="140.6" fill="#bfbfbf" stroke="#000" stroke-width="2.0"/>
<path d="M278.75 1148.75 V1134.5 M272.25 1134.5 H285.25" stroke="#303030" stroke-width="1.5" fill="none"/>
<rect x="269.25" y="1149.75" width="19" height="163.85" fill="#bfbfbf" stroke="#000" stroke-width="2.0"/>
<path d="M307.62 1103.25 V1080 M301.12 1080 H314.12" stroke="#303030" stroke-width="1.5" fill="none"/>
<rect x="298" y="1104.25" width="19.25" height="209.35" fill="#bfbfbf" stroke="#000" stroke-width="2.0"/>
<path d="M366.88 1183.75 V1140.75 M360.38 1140.75 H373.38" stroke="#303030" stroke-width="1.5" fill="none"/>
<rect x="358.5" y="1184.75" width="16.75" height="128.85" fill="#fff" stroke="#000" stroke-width="2.0"/>
<path d="M396.88 1135 V1112 M390.38 1112 H403.38" stroke="#303030" stroke-width="1.5" fill="none"/>
<rect x="387.25" y="1136" width="19.25" height="177.6" fill="#fff" stroke="#000" stroke-width="2.0"/>
<path d="M425.88 1075 V1051.25 M419.38 1051.25 H432.38" stroke="#303030" stroke-width="1.5" fill="none"/>
<rect x="416" y="1076" width="19.75" height="237.6" fill="#fff" stroke="#000" stroke-width="2.0"/>
<path d="M486.88 1230 V1227 M480.38 1227 H493.38" stroke="#303030" stroke-width="1.5" fill="none"/>
<rect x="477.25" y="1231" width="19.25" height="82.6" fill="url(#pdot)" stroke="#000" stroke-width="2.0"/>
<path d="M515.62 1238.75 V1215.75 M509.12 1215.75 H522.12" stroke="#303030" stroke-width="1.5" fill="none"/>
<rect x="506" y="1239.75" width="19.25" height="73.85" fill="url(#pdot)" stroke="#000" stroke-width="2.0"/>
<path d="M544.62 1265 V1235.75 M538.12 1235.75 H551.12" stroke="#303030" stroke-width="1.5" fill="none"/>
<rect x="535.25" y="1266" width="18.75" height="47.6" fill="url(#pdot)" stroke="#000" stroke-width="2.0"/>
<path d="M605.12 1224.5 V1210 M598.62 1210 H611.62" stroke="#303030" stroke-width="1.5" fill="none"/>
<rect x="595.5" y="1225.5" width="19.25" height="88.1" fill="url(#phatch)" stroke="#000" stroke-width="2.0"/>
<path d="M634.12 1212.5 V1210 M627.62 1210 H640.62" stroke="#303030" stroke-width="1.5" fill="none"/>
<rect x="624.75" y="1213.5" width="18.75" height="100.1" fill="url(#phatch)" stroke="#000" stroke-width="2.0"/>
<path d="M664.38 1204.25 V1187 M657.88 1187 H670.88" stroke="#303030" stroke-width="1.5" fill="none"/>
<rect x="656" y="1205.25" width="16.75" height="108.35" fill="url(#phatch)" stroke="#000" stroke-width="2.0"/>
<path d="M112.6 1022.5 V1313.6 M106.6 1313.6 H678.75 M106.6 1253.5 H112.6 M106.6 1195.75 H112.6 M106.6 1138 H112.6 M106.6 1080 H112.6 M106.6 1022.5 H112.6 M112.6 1313.6 V1319.9 M142.4 1313.6 V1319.9 M172.19 1313.6 V1319.9 M201.99 1313.6 V1319.9 M231.79 1313.6 V1319.9 M261.59 1313.6 V1319.9 M291.38 1313.6 V1319.9 M321.18 1313.6 V1319.9 M350.98 1313.6 V1319.9 M380.78 1313.6 V1319.9 M410.57 1313.6 V1319.9 M440.37 1313.6 V1319.9 M470.17 1313.6 V1319.9 M499.97 1313.6 V1319.9 M529.76 1313.6 V1319.9 M559.56 1313.6 V1319.9 M589.36 1313.6 V1319.9 M619.16 1313.6 V1319.9 M648.95 1313.6 V1319.9 M678.75 1313.6 V1319.9" stroke="#8a8a8a" stroke-width="1.3" fill="none"/>
<text x="89.55" y="1320.8" text-anchor="end" font-size="23.5" fill="#1c1c1c" stroke="#1c1c1c" stroke-width="0.45">0</text>
<text x="89.55" y="1260.7" text-anchor="end" font-size="23.5" fill="#1c1c1c" stroke="#1c1c1c" stroke-width="0.45">2</text>
<text x="89.55" y="1202.95" text-anchor="end" font-size="23.5" fill="#1c1c1c" stroke="#1c1c1c" stroke-width="0.45">4</text>
<text x="89.55" y="1145.2" text-anchor="end" font-size="23.5" fill="#1c1c1c" stroke="#1c1c1c" stroke-width="0.45">6</text>
<text x="89.55" y="1087.2" text-anchor="end" font-size="23.5" fill="#1c1c1c" stroke="#1c1c1c" stroke-width="0.45">8</text>
<text x="89.55" y="1029.7" text-anchor="end" font-size="23.5" fill="#1c1c1c" stroke="#1c1c1c" stroke-width="0.45">10</text>
<text transform="translate(47 1273.75) rotate(-90)" font-size="23.5" fill="#1c1c1c" stroke="#1c1c1c" stroke-width="0.55" textLength="211.25" lengthAdjust="spacingAndGlyphs">Activity (T/B ratio)</text>
<text x="42.25" y="1474.5" font-size="51.68" font-weight="bold" fill="#000">C</text>
<text transform="translate(138.1 1490) rotate(-90)" font-size="21.5" fill="#1c1c1c" stroke="#1c1c1c" stroke-width="0.55" textLength="161.25" lengthAdjust="spacingAndGlyphs">A. baumanii 10^7</text>
<text transform="translate(167.86 1490) rotate(-90)" font-size="21.5" fill="#1c1c1c" stroke="#1c1c1c" stroke-width="0.55" textLength="161.25" lengthAdjust="spacingAndGlyphs">A. baumanii 10^8</text>
<text transform="translate(197.62 1490) rotate(-90)" font-size="21.5" fill="#1c1c1c" stroke="#1c1c1c" stroke-width="0.55" textLength="161.25" lengthAdjust="spacingAndGlyphs">A. baumanii 10^9</text>
<text transform="translate(257.14 1431.25) rotate(-90)" font-size="21.5" fill="#1c1c1c" stroke="#1c1c1c" stroke-width="0.55" textLength="102.5" lengthAdjust="spacingAndGlyphs">E. coli 10^7</text>
<text transform="translate(286.9 1431.25) rotate(-90)" font-size="21.5" fill="#1c1c1c" stroke="#1c1c1c" stroke-width="0.55" textLength="102.5" lengthAdjust="spacingAndGlyphs">E. coli 10^8</text>
<text transform="translate(316.66 1431.25) rotate(-90)" font-size="21.5" fill="#1c1c1c" stroke="#1c1c1c" stroke-width="0.55" textLength="102.5" lengthAdjust="spacingAndGlyphs">E. coli 10^9</text>
<text transform="translate(376.18 1452) rotate(-90)" font-size="21.5" fill="#1c1c1c" stroke="#1c1c1c" stroke-width="0.55" textLength="138" lengthAdjust="spacingAndGlyphs">P. aeruginosa…</text>
<text transform="translate(405.94 1452) rotate(-90)" font-size="21.5" fill="#1c1c1c" stroke="#1c1c1c" stroke-width="0.55" textLength="138" lengthAdjust="spacingAndGlyphs">P. aeruginosa…</text>
<text transform="translate(435.7 1452) rotate(-90)" font-size="21.5" fill="#1c1c1c" stroke="#1c1c1c" stroke-width="0.55" textLength="138" lengthAdjust="spacingAndGlyphs">P. aeruginosa…</text>
<text transform="translate(495.22 1468.75) rotate(-90)" font-size="21.5" fill="#1c1c1c" stroke="#1c1c1c" stroke-width="0.55" textLength="140" lengthAdjust="spacingAndGlyphs">E. faecalis 10^7</text>
<text transform="translate(524.98 1468.75) rotate(-90)" font-size="21.5" fill="#1c1c1c" stroke="#1c1c1c" stroke-width="0.55" textLength="140" lengthAdjust="spacingAndGlyphs">E. faecalis 10^8</text>
<text transform="translate(554.74 1468.75) rotate(-90)" font-size="21.5" fill="#1c1c1c" stroke="#1c1c1c" stroke-width="0.55" textLength="140" lengthAdjust="spacingAndGlyphs">E. faecalis 10^9</text>
<text transform="translate(614.26 1463.75) rotate(-90)" font-size="21.5" fill="#1c1c1c" stroke="#1c1c1c" stroke-width="0.55" textLength="136.25" lengthAdjust="spacingAndGlyphs">S. aureus 10^7</text>
<text transform="translate(644.02 1463.75) rotate(-90)" font-size="21.5" fill="#1c1c1c" stroke="#1c1c1c" stroke-width="0.55" textLength="136.25" lengthAdjust="spacingAndGlyphs">S. aureus 10^8</text>
<text transform="translate(673.78 1463.75) rotate(-90)" font-size="21.5" fill="#1c1c1c" stroke="#1c1c1c" stroke-width="0.55" textLength="136.25" lengthAdjust="spacingAndGlyphs">S. aureus 10^9</text>
</g>
<g id="panel-F">
<path d="M807.88 1247.5 V1138.75 M801.38 1138.75 H814.38" stroke="#303030" stroke-width="1.5" fill="none"/>
<rect x="799.25" y="1248.5" width="17.25" height="66.5" fill="#000" stroke="#000" stroke-width="2.0"/>
<path d="M836.88 1242 V1110 M830.38 1110 H843.38" stroke="#303030" stroke-width="1.5" fill="none"/>
<rect x="828" y="1243" width="17.75" height="72" fill="#000" stroke="#000" stroke-width="2.0"/>
<path d="M865.62 1201.25 V1147 M859.12 1147 H872.12" stroke="#303030" stroke-width="1.5" fill="none"/>
<rect x="856.75" y="1202.25" width="17.75" height="112.75" fill="#000" stroke="#000" stroke-width="2.0"/>
<path d="M924.62 1268.25 V1259.5 M918.12 1259.5 H931.12" stroke="#303030" stroke-width="1.5" fill="none"/>
<rect x="915.25" y="1269.25" width="18.75" height="45.75" fill="#bfbfbf" stroke="#000" stroke-width="2.0"/>
<path d="M953.62 1153 V1060.75 M947.12 1060.75 H960.12" stroke="#303030" stroke-width="1.5" fill="none"/>
<rect x="944" y="1154" width="19.25" height="161" fill="#bfbfbf" stroke="#000" stroke-width="2.0"/>
<path d="M982.38 1130 V1092.5 M975.88 1092.5 H988.88" stroke="#303030" stroke-width="1.5" fill="none"/>
<rect x="972.75" y="1131" width="19.25" height="184" fill="#bfbfbf" stroke="#000" stroke-width="2.0"/>
<path d="M1040.38 1273.75 V1245.5 M1033.88 1245.5 H1046.88" stroke="#303030" stroke-width="1.5" fill="none"/>
<rect x="1030.5" y="1274.75" width="19.75" height="40.25" fill="#fff" stroke="#000" stroke-width="2.0"/>
<path d="M1069 1196.25 V1158.75 M1062.5 1158.75 H1075.5" stroke="#303030" stroke-width="1.5" fill="none"/>
<rect x="1059" y="1197.25" width="20" height="117.75" fill="#fff" stroke="#000" stroke-width="2.0"/>
<path d="M1097.88 1081.25 V1040.75 M1091.38 1040.75 H1104.38" stroke="#303030" stroke-width="1.5" fill="none"/>
<rect x="1088" y="1082.25" width="19.75" height="232.75" fill="#fff" stroke="#000" stroke-width="2.0"/>
<path d="M1157 1315 V1291.75 M1150.5 1291.75 H1163.5" stroke="#303030" stroke-width="1.5" fill="none"/>
<line x1="1146.5" y1="1314.6" x2="1167.5" y2="1314.6" stroke="#6e6e6e" stroke-width="1.4"/>
<path d="M1185.75 1315 V1271.75 M1179.25 1271.75 H1192.25" stroke="#303030" stroke-width="1.5" fill="none"/>
<line x1="1175.5" y1="1314.8" x2="1196" y2="1314.8" stroke="#6f93c4" stroke-width="1.4"/>
<path d="M1272.5 1285.5 V1283 M1266 1283 H1279" stroke="#303030" stroke-width="1.5" fill="none"/>
<rect x="1264" y="1286.5" width="17" height="28.5" fill="url(#phatch)" stroke="#000" stroke-width="2.0"/>
<path d="M1331.88 1303 V1274.25 M1325.38 1274.25 H1338.38" stroke="#303030" stroke-width="1.5" fill="none"/>
<rect x="1322.25" y="1304" width="19.25" height="11" fill="url(#phatch)" stroke="#000" stroke-width="2.0"/>
<path d="M793.25 1017 V1315 M784.75 1315 H1344.25 M784.75 1265.75 H793.25 M784.75 1216.25 H793.25 M784.75 1167.5 H793.25 M784.75 1115.5 H793.25 M784.75 1066.25 H793.25 M784.75 1017 H793.25 M793.25 1315 V1323.6 M822.25 1315 V1323.6 M851.25 1315 V1323.6 M880.25 1315 V1323.6 M909.25 1315 V1323.6 M938.25 1315 V1323.6 M967.25 1315 V1323.6 M996.25 1315 V1323.6 M1025.25 1315 V1323.6 M1054.25 1315 V1323.6 M1083.25 1315 V1323.6 M1112.25 1315 V1323.6 M1141.25 1315 V1323.6 M1170.25 1315 V1323.6 M1199.25 1315 V1323.6 M1228.25 1315 V1323.6 M1257.25 1315 V1323.6 M1286.25 1315 V1323.6 M1315.25 1315 V1323.6 M1344.25 1315 V1323.6" stroke="#8a8a8a" stroke-width="1.3" fill="none"/>
<text x="768.8" y="1322.2" text-anchor="end" font-size="23.5" fill="#1c1c1c" stroke="#1c1c1c" stroke-width="0.45">0</text>
<text x="768.8" y="1272.95" text-anchor="end" font-size="23.5" fill="#1c1c1c" stroke="#1c1c1c" stroke-width="0.45">1</text>
<text x="768.8" y="1223.45" text-anchor="end" font-size="23.5" fill="#1c1c1c" stroke="#1c1c1c" stroke-width="0.45">2</text>
<text x="768.8" y="1174.7" text-anchor="end" font-size="23.5" fill="#1c1c1c" stroke="#1c1c1c" stroke-width="0.45">3</text>
<text x="768.8" y="1122.7" text-anchor="end" font-size="23.5" fill="#1c1c1c" stroke="#1c1c1c" stroke-width="0.45">4</text>
<text x="768.8" y="1073.45" text-anchor="end" font-size="23.5" fill="#1c1c1c" stroke="#1c1c1c" stroke-width="0.45">5</text>
<text x="768.8" y="1024.2" text-anchor="end" font-size="23.5" fill="#1c1c1c" stroke="#1c1c1c" stroke-width="0.45">6</text>
<text transform="translate(730 1275) rotate(-90)" font-size="22" fill="#1c1c1c" stroke="#1c1c1c" stroke-width="0.55" textLength="191.25" lengthAdjust="spacingAndGlyphs">Activity (T/B ratio)</text>
<text x="729.75" y="1474.5" font-size="51.68" font-weight="bold" fill="#000">F</text>
<text transform="translate(816.2 1470.5) rotate(-90)" font-size="21.5" fill="#1c1c1c" stroke="#1c1c1c" stroke-width="0.55" textLength="139.25" lengthAdjust="spacingAndGlyphs">A. baumanii 1h</text>
<text transform="translate(845.33 1470.5) rotate(-90)" font-size="21.5" fill="#1c1c1c" stroke="#1c1c1c" stroke-width="0.55" textLength="139.25" lengthAdjust="spacingAndGlyphs">A. baumanii 3h</text>
<text transform="translate(874.46 1470.5) rotate(-90)" font-size="21.5" fill="#1c1c1c" stroke="#1c1c1c" stroke-width="0.55" textLength="139.25" lengthAdjust="spacingAndGlyphs">A. baumanii 6h</text>
<text transform="translate(932.72 1412.5) rotate(-90)" font-size="21.5" fill="#1c1c1c" stroke="#1c1c1c" stroke-width="0.55" textLength="81.25" lengthAdjust="spacingAndGlyphs">E. coli 1h</text>
<text transform="translate(961.85 1412.5) rotate(-90)" font-size="21.5" fill="#1c1c1c" stroke="#1c1c1c" stroke-width="0.55" textLength="81.25" lengthAdjust="spacingAndGlyphs">E. coli 3h</text>
<text transform="translate(990.98 1412.5) rotate(-90)" font-size="21.5" fill="#1c1c1c" stroke="#1c1c1c" stroke-width="0.55" textLength="81.25" lengthAdjust="spacingAndGlyphs">E. coli 6h</text>
<text transform="translate(1049.24 1484.5) rotate(-90)" font-size="21.5" fill="#1c1c1c" stroke="#1c1c1c" stroke-width="0.55" textLength="154.5" lengthAdjust="spacingAndGlyphs">P. aeruginosa 1h</text>
<text transform="translate(1078.37 1484.5) rotate(-90)" font-size="21.5" fill="#1c1c1c" stroke="#1c1c1c" stroke-width="0.55" textLength="154.5" lengthAdjust="spacingAndGlyphs">P. aeruginosa 3h</text>
<text transform="translate(1107.5 1484.5) rotate(-90)" font-size="21.5" fill="#1c1c1c" stroke="#1c1c1c" stroke-width="0.55" textLength="154.5" lengthAdjust="spacingAndGlyphs">P. aeruginosa 6h</text>
<text transform="translate(1165.76 1450) rotate(-90)" font-size="21.5" fill="#1c1c1c" stroke="#1c1c1c" stroke-width="0.55" textLength="119.5" lengthAdjust="spacingAndGlyphs">E. faecalis 1h</text>
<text transform="translate(1194.89 1450) rotate(-90)" font-size="21.5" fill="#1c1c1c" stroke="#1c1c1c" stroke-width="0.55" textLength="119.5" lengthAdjust="spacingAndGlyphs">E. faecalis 3h</text>
<text transform="translate(1224.02 1450) rotate(-90)" font-size="21.5" fill="#1c1c1c" stroke="#1c1c1c" stroke-width="0.55" textLength="119.5" lengthAdjust="spacingAndGlyphs">E. faecalis 6h</text>
<text transform="translate(1282.28 1441.75) rotate(-90)" font-size="21.5" fill="#1c1c1c" stroke="#1c1c1c" stroke-width="0.55" textLength="113" lengthAdjust="spacingAndGlyphs">S. aureus 1h</text>
<text transform="translate(1311.41 1441.75) rotate(-90)" font-size="21.5" fill="#1c1c1c" stroke="#1c1c1c" stroke-width="0.55" textLength="113" lengthAdjust="spacingAndGlyphs">S. aureus 3h</text>
<text transform="translate(1340.54 1441.75) rotate(-90)" font-size="21.5" fill="#1c1c1c" stroke="#1c1c1c" stroke-width="0.55" textLength="113" lengthAdjust="spacingAndGlyphs">S. aureus 6h</text>
</g>
</svg></body></html>
